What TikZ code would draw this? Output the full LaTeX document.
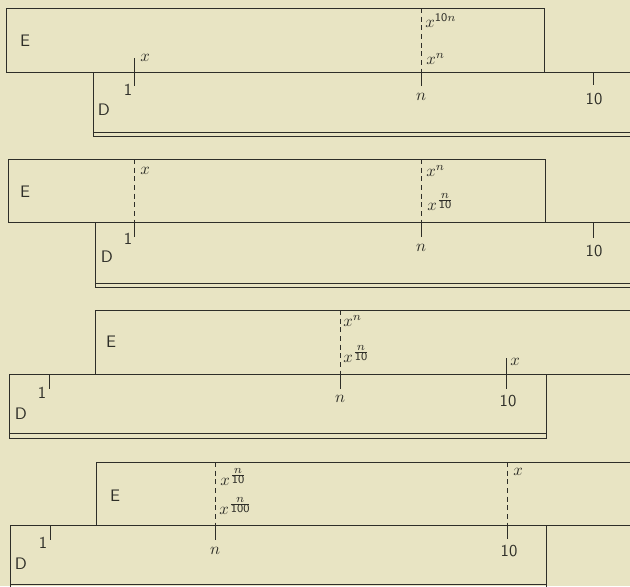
\documentclass[tikz,border=0pt]{standalone}
\usepackage{xcolor}
\usepackage{tikz}
\definecolor{paper}{HTML}{E8E4C3}
\definecolor{ink}{HTML}{2E2E28}
\newcommand{\fracexp}[2]{\frac{\scriptstyle #1}{\scriptstyle\mathsf{#2}}}
\tikzset{
  rule/.style={ink,line width=.6pt},
  dashmark/.style={ink,line width=.6pt,dash pattern=on 3pt off 2.2pt},
  lbl/.style={ink,font=\sffamily,inner sep=0pt},
  mlbl/.style={ink,inner sep=0pt,anchor=west}
}
\begin{document}
\begin{tikzpicture}[x=.6pt,y=-.6pt]
    \useasboundingbox (0,0) rectangle (630,586);
    \fill[paper](0,0) rectangle (630,586);
    \clip (0,0) rectangle (630,586);
    % first setting: x on E over 1 on D
    \draw[rule](6,8) rectangle (544,72);
    \draw[rule](93,72) rectangle (640,136);
    \draw[rule](93,132)--(640,132);
    \draw[rule](134,58)--(134,86);
    \draw[dashmark](421,8)--(421,72);
    \draw[rule](421,72)--(421,86);
    \draw[rule](593,72)--(593,85);
    \node[lbl] (e1) at (25,41) {E};
    \node[lbl] (d1) at (104,110) {D};
    \node[lbl] (one1) at (128,90) {1};
    \node[mlbl] (x1) at (140,58) {$x$};
    \node[mlbl] (xtn1) at (425,21) {$x^{\mathsf{10}n}$};
    \node[mlbl] (xn1) at (426,59) {$x^n$};
    \node[ink,inner sep=0pt] (n1) at (421,97) {$n$};
    \node[lbl] (ten1) at (594,99) {10};
    % second setting: x on E over 1 on D, read under n
    \draw[rule](8,159) rectangle (545,222);
    \draw[rule](95,222) rectangle (640,287);
    \draw[rule](95,283)--(640,283);
    \draw[dashmark](134,159)--(134,222);
    \draw[rule](134,222)--(134,237);
    \draw[dashmark](421,159)--(421,222);
    \draw[rule](421,222)--(421,237);
    \draw[rule](593,222)--(593,238);
    \node[lbl] (e2) at (25,192) {E};
    \node[lbl] (d2) at (107,257) {D};
    \node[lbl] (one2) at (128,239) {1};
    \node[mlbl] (x2) at (140,171) {$x$};
    \node[mlbl] (xn2) at (426,171) {$x^n$};
    \node[mlbl] (xnt2) at (427,202) {$x^{\fracexp{n}{10}}$};
    \node[ink,inner sep=0pt] (n2) at (421,248) {$n$};
    \node[lbl] (ten2) at (594,251) {10};
    % third setting: x on E over 10 on D
    \draw[rule](95,310) rectangle (640,374);
    \draw[rule](9,374) rectangle (546,438);
    \draw[rule](9,433)--(546,433);
    \draw[rule](49,374)--(49,389);
    \draw[dashmark](340,310)--(340,374);
    \draw[rule](340,374)--(340,389);
    \draw[rule](506,358)--(506,389);
    \node[lbl] (e3) at (111,342) {E};
    \node[lbl] (d3) at (21,414) {D};
    \node[lbl] (one3) at (42,393) {1};
    \node[mlbl] (xn3) at (343,321) {$x^n$};
    \node[mlbl] (xnt3) at (343,354) {$x^{\fracexp{n}{10}}$};
    \node[mlbl] (x3) at (510,362) {$x$};
    \node[ink,inner sep=0pt] (n3) at (340,399) {$n$};
    \node[lbl] (ten3) at (508,401) {10};
    % fourth setting: x on E over 10 on D, read under n
    \draw[rule](96,462) rectangle (640,525);
    \draw[rule](10,525) rectangle (546,588);
    \draw[rule](10,584)--(546,584);
    \draw[rule](50,525)--(50,540);
    \draw[dashmark](215,462)--(215,525);
    \draw[rule](215,525)--(215,540);
    \draw[dashmark](507,462)--(507,525);
    \draw[rule](507,525)--(507,539);
    \node[lbl] (e4) at (115,496) {E};
    \node[lbl] (d4) at (21,564) {D};
    \node[lbl] (one4) at (43,543) {1};
    \node[mlbl] (xnt4) at (220,477) {$x^{\fracexp{n}{10}}$};
    \node[mlbl] (xnh4) at (219,506) {$x^{\fracexp{n}{100}}$};
    \node[mlbl] (x4) at (513,472) {$x$};
    \node[ink,inner sep=0pt] (n4) at (215,551) {$n$};
    \node[lbl] (ten4) at (509,551) {10};
  \end{tikzpicture}
\end{document}
